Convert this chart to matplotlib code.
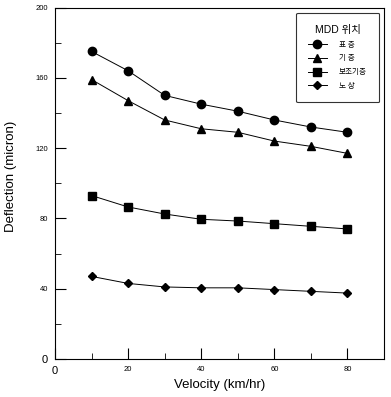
import matplotlib
matplotlib.use("Agg")
import matplotlib.pyplot as plt
from matplotlib.ticker import MultipleLocator

velocity = [10, 20, 30, 40, 50, 60, 70, 80]
surface = [175, 164, 150, 145, 141, 136, 132, 129]
base = [159, 147, 136, 131, 129, 124, 121, 117]
subbase = [93, 86.5, 82.5, 79.5, 78.5, 77, 75.5, 74]
subgrade = [47, 43, 41, 40.5, 40.5, 39.5, 38.5, 37.5]
labels = ["표 층", "기 층", "보조기층", "노 상"]
legend_title = "MDD 위치"
xticks = [0, 20, 40, 60, 80]
yticks = [0, 40, 80, 120, 160, 200]

plt.rcParams['font.family'] = ['Liberation Sans', 'Noto Sans CJK KR', 'DejaVu Sans']

fig = plt.figure(figsize=(3.91, 3.97), dpi=100)
ax = fig.add_axes([55/391, 38/397, 329/391, 351.5/397])

series = [surface, base, subbase, subgrade]
markers = ['o', '^', 's', 'D']
msizes = [6, 6, 5.5, 4.5]
for ys, m, ms, lab in zip(series, markers, msizes, labels):
    ax.plot(velocity, ys, color='black', lw=0.7, marker=m, ms=ms,
            markerfacecolor='black', markeredgecolor='black', label=lab)

ax.set_xlim(0, 90)
ax.set_ylim(0, 200)
ax.set_xticks(xticks)
ax.set_yticks(yticks)
ax.xaxis.set_minor_locator(MultipleLocator(10))
ax.yaxis.set_minor_locator(MultipleLocator(20))
ax.tick_params(which='major', direction='in', length=8, width=0.8, labelsize=5.5, pad=5)
ax.tick_params(which='minor', direction='in', length=4, width=0.6)
for spine in ax.spines.values():
    spine.set_linewidth(0.8)

narrow = ['Liberation Sans Narrow', 'Liberation Sans', 'DejaVu Sans']
for t in ax.get_xticklabels() + ax.get_yticklabels():
    t.set_family(narrow)
ax.get_xticklabels()[0].set_fontsize(8)
ax.get_yticklabels()[0].set_fontsize(8)

ax.set_xlabel("Velocity (km/hr)", fontsize=9.5, labelpad=2)
ax.set_ylabel("Deflection (micron)", fontsize=9.5)
ax.yaxis.set_label_coords(-0.117, 0.52)

leg = ax.legend(loc='upper right', bbox_to_anchor=(0.985, 0.985), fontsize=5.5,
                title=legend_title, title_fontsize=7.5, frameon=True, fancybox=True,
                edgecolor='black', handlelength=2.4, borderpad=1.6, labelspacing=0.75,
                handletextpad=1.6, borderaxespad=0)
leg.get_frame().set_linewidth(0.8)
leg.get_title().set_family(['Liberation Sans', 'Noto Sans CJK KR'])
for t in leg.get_texts():
    t.set_family(['Noto Sans CJK KR', 'DejaVu Sans'])

fig.savefig("out.png", dpi=100)
